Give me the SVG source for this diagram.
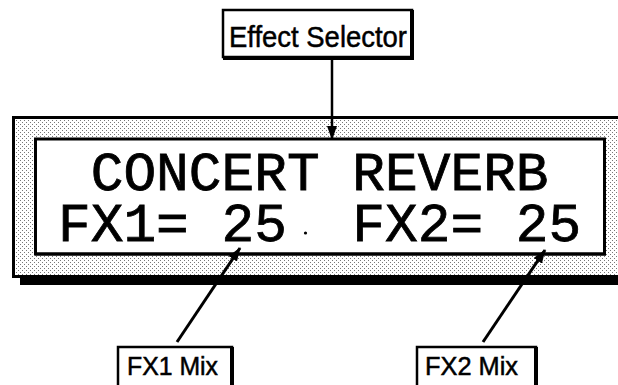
<svg xmlns="http://www.w3.org/2000/svg" width="618" height="385" viewBox="0 0 618 385">
<style>
.lbl{font-family:"Liberation Sans",Arial,sans-serif;fill:#000;stroke:#000;stroke-width:0.5}
.lcd{font-family:"Liberation Mono","Courier New",monospace;font-size:54.5px;fill:#000;stroke:#000;stroke-width:0.8}
.box{fill:#fff;stroke:#000;stroke-width:2.5}
.sh{fill:none;stroke:#000;stroke-width:4}
.con{stroke:#000;fill:none}
</style>
<defs>
<pattern id="stip" width="4" height="4" patternUnits="userSpaceOnUse">
<rect width="4" height="4" fill="#fff"/>
<rect x="0" y="0" width="1" height="1" fill="#777"/>
<rect x="2" y="2" width="1" height="1" fill="#777"/>
</pattern>
<marker id="ah" markerUnits="userSpaceOnUse" markerWidth="14" markerHeight="10" refX="13" refY="5" orient="auto">
<path d="M0,0 L14,5 L0,10 z" fill="#000"/>
</marker>
</defs>
<g id="display">
<rect x="20" y="276" width="600" height="9" fill="#000"/>
<rect x="13.5" y="117.5" width="610" height="159" fill="url(#stip)" stroke="#000" stroke-width="3"/>
<rect x="35.5" y="139" width="569" height="115" fill="#fff" stroke="#000" stroke-width="3"/>
<line x1="35" y1="254" x2="606" y2="254" stroke="#000" stroke-width="3"/>
<text class="lcd" x="58" y="190" xml:space="preserve"> CONCERT REVERB</text>
<text class="lcd" x="58" y="241" xml:space="preserve">FX1= 25  FX2= 25</text>
<circle cx="305.5" cy="233" r="1.6" fill="#000"/>
</g>
<g id="effect-selector">
<rect class="box" x="223" y="10" width="189" height="47"/>
<path class="sh" d="M412,10 V58 H223"/>
<text class="lbl" x="229" y="47" font-size="30" textLength="178" lengthAdjust="spacingAndGlyphs">Effect Selector</text>
</g>
<g id="fx1-mix">
<rect class="box" x="118" y="347" width="114" height="45"/>
<path class="sh" d="M232,347 V392"/>
<text class="lbl" x="127" y="375" font-size="26" textLength="91" lengthAdjust="spacingAndGlyphs">FX1 Mix</text>
</g>
<g id="fx2-mix">
<rect class="box" x="417" y="347" width="119" height="45"/>
<path class="sh" d="M536,347 V392"/>
<text class="lbl" x="425" y="375" font-size="26" textLength="93" lengthAdjust="spacingAndGlyphs">FX2 Mix</text>
</g>
<g id="connectors">
<line class="con" x1="332" y1="59" x2="332" y2="139" stroke-width="2.5" marker-end="url(#ah)"/>
<line class="con" x1="177" y1="342" x2="240" y2="248" stroke-width="3" marker-end="url(#ah)"/>
<line class="con" x1="483" y1="342" x2="545" y2="250" stroke-width="3" marker-end="url(#ah)"/>
</g>
</svg>
